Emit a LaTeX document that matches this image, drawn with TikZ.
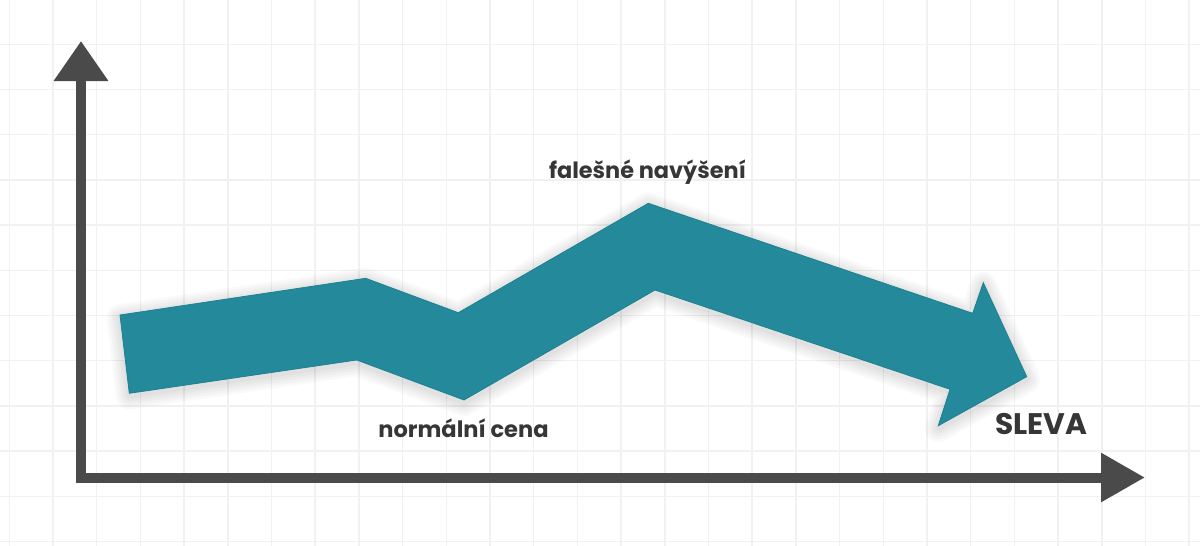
\documentclass[tikz,border=0pt]{standalone}
\usepackage{fontspec}
\setmainfont{Poppins}
\usepackage{xcolor}
\definecolor{chartTeal}{HTML}{24899A}
\definecolor{chartTealEdge}{HTML}{1C8191}
\definecolor{chartInk}{HTML}{4A4A4A}
\definecolor{chartText}{HTML}{363636}
\definecolor{gridGray}{HTML}{F1F1F1}
\usetikzlibrary{positioning, arrows.meta}

\begin{document}
\begin{tikzpicture}[
  x=0.75pt, y=-0.75pt,
  gridline/.style = {draw=gridGray, line width=1.1pt},
  axis/.style = {draw=chartInk, line width=7.5pt, line join=miter,
                 {Triangle[length=30pt, width=39pt]}-{Triangle[length=33pt, width=35pt]}},
  zigzag/.style = {fill=chartTeal, draw=chartTealEdge, line width=0.6pt},
  halo/.style = {draw=black, line join=round, opacity=0.025},
  label/.style = {text=chartText, inner sep=0pt},
]

% Canvas
\useasboundingbox[fill=white] (0,0) rectangle (1200,546);

% Grid
\foreach \gx in {0,...,27}
  \draw[gridline] ({9.3+43.7*\gx},0) -- ({9.3+43.7*\gx},546);
\foreach \gy in {1,...,12}
  \draw[gridline] (0,{-0.9+45.2*\gy}) -- (1200,{-0.9+45.2*\gy});

% Axes
\coordinate (ytip)   at (81,41);
\coordinate (origin) at (81,477.5);
\coordinate (xtip)   at (1145,477.5);
\draw[axis] (ytip) -- (origin) -- (xtip);

% Price curve, soft shadow first
\def\pricepath{(120,315) -- (365.7,278.3) -- (458.3,312.7) -- (648.3,203.3)
  -- (972.7,313.3) -- (983.3,282.7) -- (1026.7,376.7) -- (938.3,425.7)
  -- (950,389.3) -- (655,290) -- (464,400) -- (356.7,360)
  -- (129.3,393.3) -- cycle}
\foreach \w in {4,8,12,16,20}
  \draw[halo, line width=\w pt, yshift=-2pt] \pricepath;
\draw[zigzag] \pricepath;

% Labels
\node[label, font=\fontsize{16.8}{20}\selectfont\bfseries] (fakeRise)  at (647.5,172) {falešné navýšení};
\node[label, font=\fontsize{16.9}{20}\selectfont\bfseries] (normPrice) at (463.5,428) {normální cena};
\node[label, font=\fontsize{22.3}{26}\selectfont\bfseries] (sale)      at (1041.3,424) {SLEVA};

\end{tikzpicture}
\end{document}
